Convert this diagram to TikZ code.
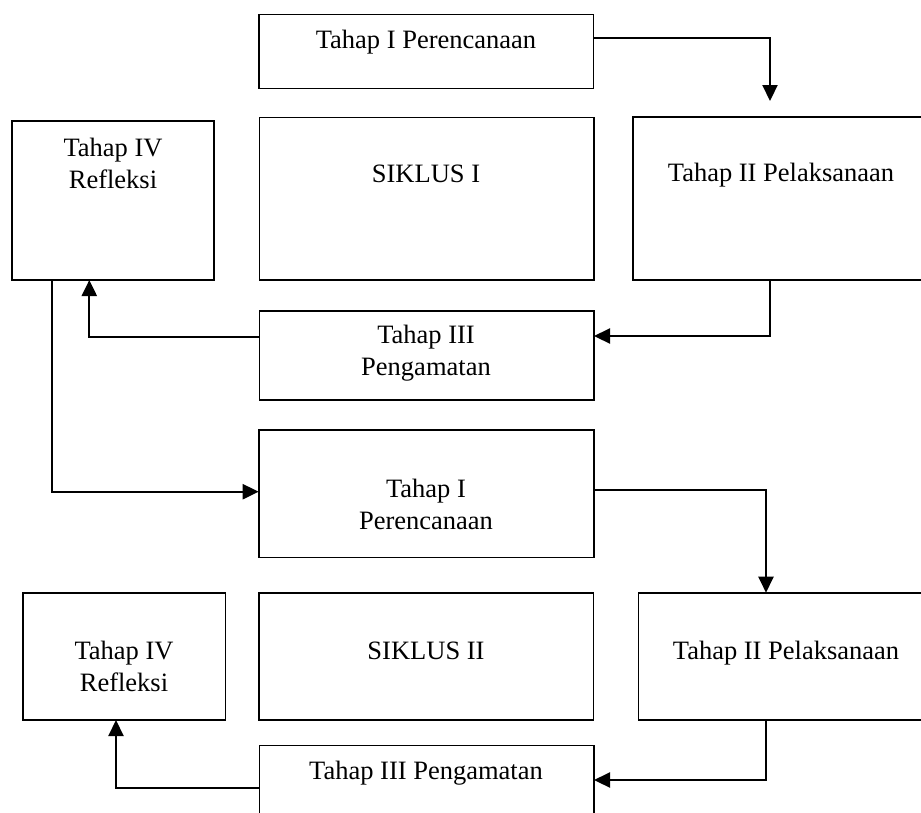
\documentclass[tikz,border=0pt]{standalone}
\usepackage{fontspec}
\setmainfont{Liberation Serif}
\usetikzlibrary{arrows.meta}
\begin{document}
\begin{tikzpicture}[x=1pt,y=-1pt,
  box/.style={draw=black,line width=1.6pt,rectangle,inner sep=0pt,outer sep=0pt,anchor=north west},
  txt/.style={align=center,inner sep=0pt,font=\fontsize{26.5}{32}\selectfont},
  conn/.style={draw=black,line width=2.2pt},
  arr/.style={conn,-{Triangle[length=16pt,width=15pt]}}]
\useasboundingbox (0,0) rectangle (921,812);
\clip (0,0) rectangle (921,812);
\fill[white] (0,0) rectangle (921,812);
% boxes, cycle I
\node[box,minimum width=334.6pt,minimum height=74pt] (p1) at (258.7,14.3) {};
\node[box,minimum width=334.7pt,minimum height=162.7pt] (s1) at (259.3,117.3) {};
\node[box,minimum width=202pt,minimum height=159pt] (r1) at (12,121) {};
\node[box,minimum width=300pt,minimum height=163.3pt] (pl1) at (632.7,116.7) {};
\node[box,minimum width=334.7pt,minimum height=89.3pt] (g1) at (259.3,310.7) {};
% boxes, cycle II
\node[box,minimum width=335.3pt,minimum height=127.3pt] (p2) at (258.7,430) {};
\node[box,minimum width=334.6pt,minimum height=127.3pt] (s2) at (258.7,592.7) {};
\node[box,minimum width=202.6pt,minimum height=127.3pt] (r2) at (22.7,592.7) {};
\node[box,minimum width=295pt,minimum height=127.3pt] (pl2) at (638.3,592.7) {};
\node[box,minimum width=334.7pt,minimum height=90pt] (g2) at (259.3,745.3) {};
% texts
\node[txt] (p1t) at (426,42) {Tahap I Perencanaan};
\node[txt] (s1t) at (426,174) {SIKLUS I};
\node[txt] (r1t) at (113,163) {Tahap IV\\Refleksi};
\node[txt] (pl1t) at (781,175) {Tahap II Pelaksanaan};
\node[txt] (g1t) at (426,353) {Tahap III\\Pengamatan};
\node[txt] (p2t) at (426,504) {Tahap I\\Perencanaan};
\node[txt] (s2t) at (426,651) {SIKLUS II};
\node[txt] (r2t) at (124,666) {Tahap IV\\Refleksi};
\node[txt] (pl2t) at (786,653) {Tahap II Pelaksanaan};
\node[txt] (g2t) at (426,773) {Tahap III Pengamatan};
% helper coordinates
\coordinate (c1) at (770,101);
\coordinate (c2) at (770,336);
\coordinate (c3) at (89.3,336.7);
\coordinate (c4) at (52.3,491.7);
\coordinate (c5) at (766,490);
\coordinate (c6) at (766,780);
\coordinate (c7) at (116,788);
% connectors
\draw[arr] (p1.east |- 0,37.7) -| (c1);
\draw[arr] (pl1.south -| c2) |- (g1.east |- c2);
\draw[arr] (g1.west |- c3) -| (r1.south -| c3);
\draw[arr] (r1.south -| c4) |- (p2.west |- c4);
\draw[arr] (p2.east |- c5) -| (pl2.north -| c5);
\draw[arr] (pl2.south -| c6) |- (g2.east |- c6);
\draw[arr] (g2.west |- c7) -| (r2.south -| c7);
\end{tikzpicture}
\end{document}
